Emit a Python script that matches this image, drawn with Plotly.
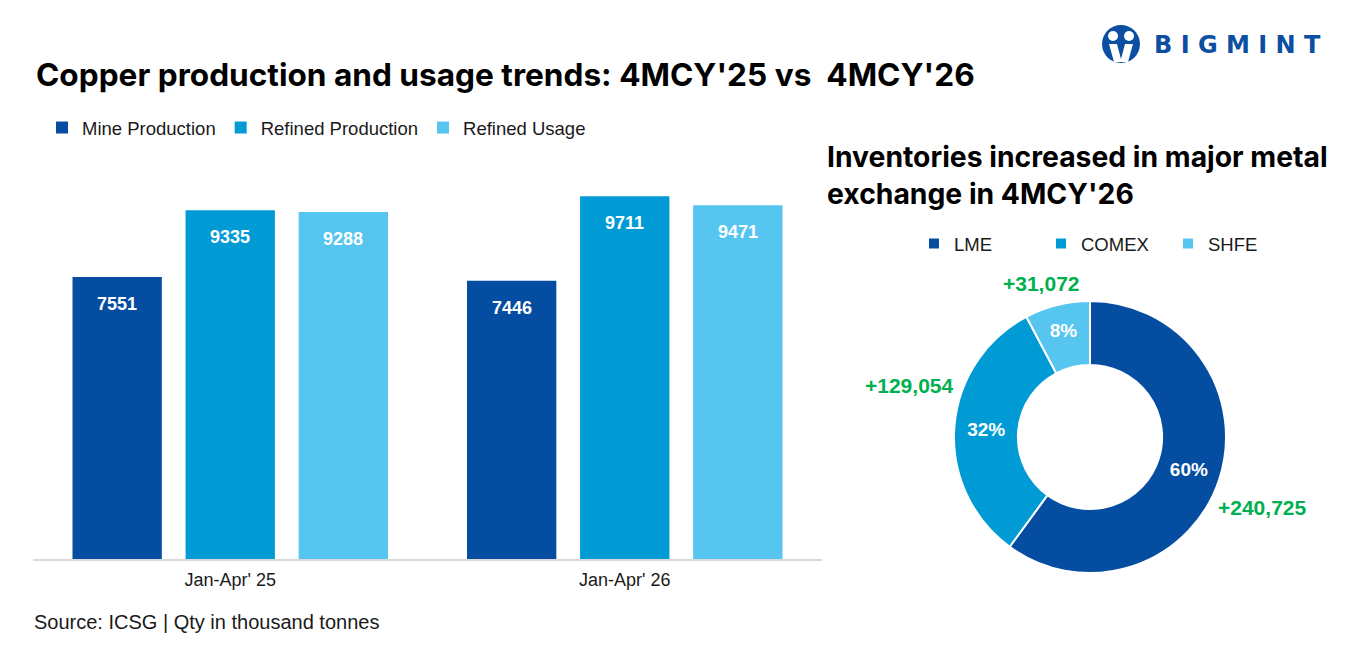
import plotly.graph_objects as go

W, H = 1350, 648


def px(x):
    return x / W


def py(y):
    return 1 - y / H


# ---------------- data ----------------
categories = ["Jan-Apr' 25", "Jan-Apr' 26"]
mine_production = [7551, 7446]
refined_production = [9335, 9711]
refined_usage = [9288, 9471]

exchanges = ["LME", "COMEX", "SHFE"]
inventory_increase = [240725, 129054, 31072]

# ---------------- style ----------------
C_DARK = "#044DA1"
C_MID = "#009BD5"
C_LIGHT = "#56C5F0"
GREEN = "#00B050"
TXT = "#1a1a1a"
FONT = "Liberation Sans, Arial, sans-serif"
TITLE_FONT = "Inter, Liberation Sans, Arial, sans-serif"

series = [
    ("Mine Production", mine_production, C_DARK),
    ("Refined Production", refined_production, C_MID),
    ("Refined Usage", refined_usage, C_LIGHT),
]

fig = go.Figure()

for name, vals, col in series:
    fig.add_trace(go.Bar(
        x=categories, y=vals, name=name, marker=dict(color=col, line=dict(width=0)),
        legend="legend", hoverinfo="x+y+name",
    ))

fig.add_trace(go.Pie(
    labels=exchanges, values=inventory_increase, hole=0.53, sort=False,
    direction="clockwise", rotation=0,
    marker=dict(colors=[C_DARK, C_MID, C_LIGHT], line=dict(color="white", width=2)),
    texttemplate="%{percent:.0%}", textposition="inside",
    insidetextorientation="horizontal",
    textfont=dict(family=FONT, size=19, color="white", weight="bold"),
    domain=dict(x=[px(954), px(1226)], y=[py(573), py(301)]),
    legend="legend2", showlegend=True,
))

annotations = []
# bar value labels
offsets = [-113, 0, 113]
for k, (name, vals, col) in enumerate(series):
    for cat, v in zip(categories, vals):
        annotations.append(dict(
            x=cat, y=v, xref="x", yref="y", text=str(v), showarrow=False,
            xshift=offsets[k], yshift=-27, xanchor="center", yanchor="middle",
            font=dict(family=FONT, size=18, color="white", weight="bold"),
        ))

# donut outside labels (inventory change)
label_pos = [(1262, 507), (909, 385), (1041, 283)]
for (lx, ly), v in zip(label_pos, inventory_increase):
    annotations.append(dict(
        x=px(lx), y=py(ly), xref="paper", yref="paper", text=f"+{v:,}",
        showarrow=False, xanchor="center", yanchor="middle",
        font=dict(family=FONT, size=21, color=GREEN, weight="bold"),
    ))

# titles
annotations.append(dict(
    x=px(34), y=py(75), xref="paper", yref="paper",
    text="Copper production and usage trends: 4MCY'25 vs\u00a0 4MCY'26",
    showarrow=False, xanchor="left", yanchor="middle",
    font=dict(family=TITLE_FONT, size=31.6, color="black", weight="bold"),
))
annotations.append(dict(
    x=px(825), y=py(175), xref="paper", yref="paper",
    text="Inventories increased in major metal<br>exchange in 4MCY'26",
    showarrow=False, xanchor="left", yanchor="middle", align="left",
    font=dict(family=TITLE_FONT, size=28.3, color="black", weight="bold"),
))
annotations.append(dict(
    x=px(32), y=py(622), xref="paper", yref="paper",
    text="Source: ICSG | Qty in thousand tonnes",
    showarrow=False, xanchor="left", yanchor="middle",
    font=dict(family=FONT, size=20, color=TXT),
))
# logo text
annotations.append(dict(
    x=px(1152), y=py(45), xref="paper", yref="paper",
    text="B I G M I N T", showarrow=False, xanchor="left", yanchor="middle",
    font=dict(family="DejaVu Sans, sans-serif", size=24, color="#0B4EA2", weight="bold"),
))

shapes = [
    dict(type="circle", xref="paper", yref="paper",
         x0=px(1102), x1=px(1140), y0=py(63), y1=py(25),
         fillcolor="#0B4EA2", line=dict(width=0)),
    dict(type="circle", xref="paper", yref="paper",
         x0=px(1108), x1=px(1118), y0=py(41), y1=py(31),
         fillcolor="white", line=dict(width=0)),
    dict(type="circle", xref="paper", yref="paper",
         x0=px(1124), x1=px(1134), y0=py(41), y1=py(31),
         fillcolor="white", line=dict(width=0)),
    dict(type="path", xref="paper", yref="paper",
         path=f"M {px(1109)},{py(44)} L {px(1117)},{py(44)} L {px(1121)},{py(59)} "
              f"L {px(1125)},{py(44)} L {px(1133)},{py(44)} L {px(1128)},{py(62)} "
              f"L {px(1114)},{py(62)} Z",
         fillcolor="white", line=dict(width=0)),
]

fig.update_layout(
    width=W, height=H,
    margin=dict(l=0, r=0, t=0, b=0),
    paper_bgcolor="white", plot_bgcolor="white",
    barmode="group", bargap=0.14, bargroupgap=0.21,
    font=dict(family=FONT, color=TXT),
    xaxis=dict(
        domain=[px(33), px(822)], showgrid=False, showline=True,
        linecolor="#D9D9D9", linewidth=2, ticks="", zeroline=False,
        tickfont=dict(family=FONT, size=18, color=TXT), ticklabelstandoff=3,
    ),
    yaxis=dict(
        domain=[py(559), py(148.1)], range=[0, 11000], visible=False,
        showgrid=False, zeroline=False,
    ),
    legend=dict(
        orientation="h", x=px(42), y=py(128), xanchor="left", yanchor="middle",
        font=dict(family=FONT, size=18.5, color=TXT), bgcolor="rgba(0,0,0,0)",
        itemwidth=30, traceorder="normal",
    ),
    legend2=dict(
        orientation="h", x=px(914), y=py(244), xanchor="left", yanchor="middle",
        font=dict(family=FONT, size=18.5, color=TXT), bgcolor="rgba(0,0,0,0)",
        itemwidth=30, entrywidth=82,
    ),
    annotations=annotations,
    shapes=shapes,
    showlegend=True,
)

fig.write_html("out.html")
